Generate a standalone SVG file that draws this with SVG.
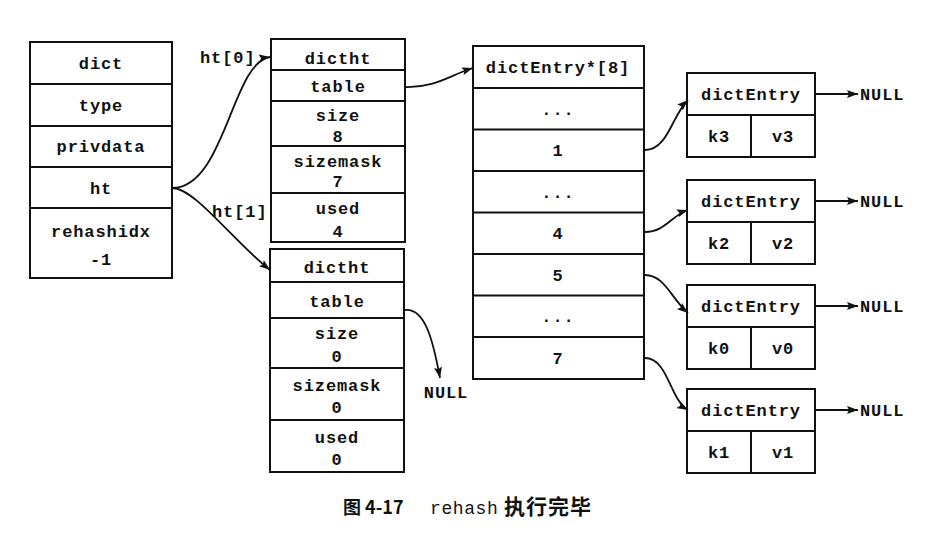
<svg xmlns="http://www.w3.org/2000/svg" width="949" height="547" viewBox="0 0 949 547">
<style>
rect{fill:#fff;stroke:#111;stroke-width:2}
line.s{stroke:#111;stroke-width:2}
text{font-family:"Liberation Mono","Courier New",monospace;font-size:17px;font-weight:bold;fill:#111;text-anchor:middle;letter-spacing:0.9px}
text.l{text-anchor:start}
.c path{fill:none;stroke:#111;stroke-width:1.8}
.cap{font-family:"Noto Sans CJK SC",sans-serif;font-weight:bold;text-anchor:start;letter-spacing:0}
</style>
<defs>
<marker id="a" markerUnits="userSpaceOnUse" markerWidth="12" markerHeight="8" refX="11" refY="4" orient="auto">
<path d="M0,0 L11,4 L0,8 L2,4 z" fill="#111"/>
</marker>
</defs>
<rect width="949" height="547" style="fill:#fff;stroke:none"/>

<g id="dict">
<rect x="30" y="42" width="142" height="236"/>
<line class="s" x1="30" y1="84" x2="172" y2="84"/>
<line class="s" x1="30" y1="126" x2="172" y2="126"/>
<line class="s" x1="30" y1="167" x2="172" y2="167"/>
<line class="s" x1="30" y1="208" x2="172" y2="208"/>
<text x="101" y="69">dict</text>
<text x="101" y="111">type</text>
<text x="101" y="152">privdata</text>
<text x="101" y="194">ht</text>
<text x="101" y="237">rehashidx</text>
<text x="101" y="265">-1</text>
</g>

<g id="ht0">
<rect x="271" y="39" width="134" height="203"/>
<line class="s" x1="271" y1="70" x2="405" y2="70"/>
<line class="s" x1="271" y1="101" x2="405" y2="101"/>
<line class="s" x1="271" y1="146" x2="405" y2="146"/>
<line class="s" x1="271" y1="193" x2="405" y2="193"/>
<text x="338" y="64">dictht</text>
<text x="338" y="92">table</text>
<text x="338" y="121">size</text>
<text x="338" y="142">8</text>
<text x="338" y="167">sizemask</text>
<text x="338" y="187">7</text>
<text x="338" y="214">used</text>
<text x="338" y="237">4</text>
</g>

<g id="ht1">
<rect x="270" y="249" width="134" height="223"/>
<line class="s" x1="270" y1="282" x2="404" y2="282"/>
<line class="s" x1="270" y1="318" x2="404" y2="318"/>
<line class="s" x1="270" y1="368" x2="404" y2="368"/>
<line class="s" x1="270" y1="420" x2="404" y2="420"/>
<text x="337" y="273">dictht</text>
<text x="337" y="307">table</text>
<text x="337" y="339">size</text>
<text x="337" y="362">0</text>
<text x="337" y="391">sizemask</text>
<text x="337" y="413">0</text>
<text x="337" y="443">used</text>
<text x="337" y="465">0</text>
</g>

<g id="null-ht1">
<text x="446" y="398">NULL</text>
</g>

<g id="table">
<rect x="473" y="46" width="171" height="333"/>
<line class="s" x1="473" y1="88" x2="644" y2="88"/>
<line class="s" x1="473" y1="129.5" x2="644" y2="129.5"/>
<line class="s" x1="473" y1="171" x2="644" y2="171"/>
<line class="s" x1="473" y1="212.5" x2="644" y2="212.5"/>
<line class="s" x1="473" y1="254" x2="644" y2="254"/>
<line class="s" x1="473" y1="295.5" x2="644" y2="295.5"/>
<line class="s" x1="473" y1="337" x2="644" y2="337"/>
<text x="558" y="73">dictEntry*[8]</text>
<text x="558" y="115">...</text>
<text x="558" y="156">1</text>
<text x="558" y="198">...</text>
<text x="558" y="239">4</text>
<text x="558" y="281">5</text>
<text x="558" y="322">...</text>
<text x="558" y="364">7</text>
</g>

<g id="entry-k3">
<rect x="687" y="73" width="128" height="84"/>
<line class="s" x1="687" y1="115" x2="815" y2="115"/>
<line class="s" x1="751" y1="115" x2="751" y2="157"/>
<text x="751" y="100">dictEntry</text>
<text x="719" y="142">k3</text>
<text x="783" y="142">v3</text>
<text class="l" x="860" y="100">NULL</text>
</g>

<g id="entry-k2">
<rect x="687" y="180" width="128" height="84"/>
<line class="s" x1="687" y1="222" x2="815" y2="222"/>
<line class="s" x1="751" y1="222" x2="751" y2="264"/>
<text x="751" y="207">dictEntry</text>
<text x="719" y="249">k2</text>
<text x="783" y="249">v2</text>
<text class="l" x="860" y="207">NULL</text>
</g>

<g id="entry-k0">
<rect x="687" y="285" width="128" height="84"/>
<line class="s" x1="687" y1="327" x2="815" y2="327"/>
<line class="s" x1="751" y1="327" x2="751" y2="369"/>
<text x="751" y="312">dictEntry</text>
<text x="719" y="354">k0</text>
<text x="783" y="354">v0</text>
<text class="l" x="860" y="312">NULL</text>
</g>

<g id="entry-k1">
<rect x="687" y="389" width="128" height="84"/>
<line class="s" x1="687" y1="431" x2="815" y2="431"/>
<line class="s" x1="751" y1="431" x2="751" y2="473"/>
<text x="751" y="416">dictEntry</text>
<text x="719" y="458">k1</text>
<text x="783" y="458">v1</text>
<text class="l" x="860" y="416">NULL</text>
</g>

<g id="connectors" class="c">
<path d="M172,188 C225,188 232,62 270,57" marker-end="url(#a)"/>
<path d="M172,188 C195,188 232,240 270,270" marker-end="url(#a)"/>
<path d="M405,87 C435,88 450,75 473,68" marker-end="url(#a)"/>
<path d="M405,310 C425,308 433,340 440,378" marker-end="url(#a)"/>
<path d="M645,150 C668,150 672,115 688,100" marker-end="url(#a)"/>
<path d="M645,232 C665,232 672,215 688,210" marker-end="url(#a)"/>
<path d="M645,275 C665,275 672,300 688,313" marker-end="url(#a)"/>
<path d="M645,358 C668,358 670,400 688,410" marker-end="url(#a)"/>
<path d="M815,94 L858,94" marker-end="url(#a)"/>
<path d="M815,201 L858,201" marker-end="url(#a)"/>
<path d="M815,306 L858,306" marker-end="url(#a)"/>
<path d="M815,410 L858,410" marker-end="url(#a)"/>
</g>

<g id="labels">
<text class="l" x="200" y="63">ht[0]</text>
<text class="l" x="212" y="217">ht[1]</text>
</g>

<g id="caption">
<text class="cap" x="343" y="514" style="font-size:18px">图 4-17</text>
<text class="l" x="430" y="514" style="font-size:18px;font-weight:normal;letter-spacing:0.6px">rehash</text>
<text class="cap" x="504" y="514" style="font-size:21px;letter-spacing:1px">执行完毕</text>
</g>
</svg>
